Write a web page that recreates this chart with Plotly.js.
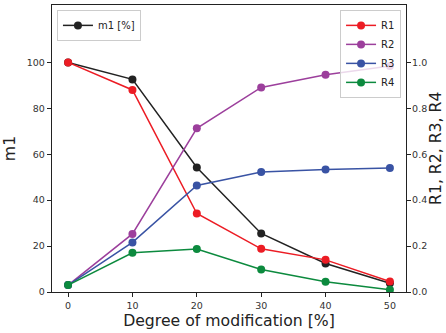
<!DOCTYPE html>
<html><head><meta charset="utf-8">
<script src="https://cdn.plot.ly/plotly-3.0.1.min.js"></script>
<style>html,body{margin:0;padding:0;background:#fff}#c{width:446px;height:333px}</style>
</head><body><div id="c"></div>
<script>
const degree = [0, 10, 20, 30, 40, 50];
const m1 = [100, 92.6, 54.2, 25.5, 12.4, 3.8];
const R1 = [1.0, 0.88, 0.342, 0.188, 0.14, 0.046];
const R2 = [0.03, 0.253, 0.713, 0.891, 0.946, 0.984];
const R3 = [0.03, 0.216, 0.464, 0.523, 0.533, 0.54];
const R4 = [0.03, 0.171, 0.187, 0.098, 0.045, 0.01];
const xTicks = [0, 10, 20, 30, 40, 50];
const yTicks = [0, 20, 40, 60, 80, 100];
const y2Ticks = [0, 0.2, 0.4, 0.6, 0.8, 1.0];
const y2Labels = ['0.0', '0.2', '0.4', '0.6', '0.8', '1.0'];
const rightTitle = 'R1, R2, R3, R4';

function tr(name, y, color, axis, legend) {
  return {x: degree, y: y, name: name, type: 'scatter', mode: 'lines+markers',
    yaxis: axis, legend: legend,
    line: {color: color, width: 1.5}, marker: {color: color, size: 8}};
}
const data = [
  tr('m1 [%]', m1, '#222222', 'y', 'legend'),
  tr('R1', R1, '#ec1c24', 'y2', 'legend2'),
  tr('R2', R2, '#9c3f9c', 'y2', 'legend2'),
  tr('R3', R3, '#3953a4', 'y2', 'legend2'),
  tr('R4', R4, '#0c8a3e', 'y2', 'legend2')
];
const tickfont = {family: 'DejaVu Sans', size: 9.5, color: '#333'};
const layout = {
  width: 446, height: 333,
  margin: {l: 52, r: 40, t: 5, b: 41},
  paper_bgcolor: '#fff', plot_bgcolor: '#fff',
  font: {family: 'DejaVu Sans', color: '#222'},
  xaxis: {range: [-2.5, 52.5], tickvals: xTicks, showgrid: false, zeroline: false,
    ticks: 'outside', ticklen: 4, tickcolor: '#222', showline: true, linecolor: '#222', linewidth: 1.2,
    mirror: true, tickfont: tickfont,
    title: {text: 'Degree of modification [%]', font: {size: 15.7, color: '#222'}, standoff: 4}},
  yaxis: {range: [0, 125], tickvals: yTicks, showgrid: false, zeroline: false,
    ticks: 'outside', ticklen: 4, tickcolor: '#222', showline: true, linecolor: '#222', linewidth: 1.2,
    tickfont: tickfont,
    title: {text: 'm1', font: {size: 15.7, color: '#222'}, standoff: 8}},
  yaxis2: {range: [0, 1.25], tickvals: y2Ticks, ticktext: y2Labels, overlaying: 'y', side: 'right',
    showgrid: false, zeroline: false, ticks: 'outside', ticklen: 4, tickcolor: '#222',
    showline: true, linecolor: '#222', linewidth: 1.2, tickfont: tickfont, ticklabelstandoff: -1},
  annotations: [{text: rightTitle, xref: 'paper', yref: 'paper', x: 1, y: 0.5, xshift: 29.5,
    xanchor: 'center', yanchor: 'middle', textangle: -90, showarrow: false,
    font: {size: 15.7, color: '#222', family: 'DejaVu Sans'}}],
  showlegend: true,
  legend: {x: 0.014, y: 0.983, xanchor: 'left', yanchor: 'top', bgcolor: 'rgba(255,255,255,0.8)',
    bordercolor: '#ccc', borderwidth: 1, font: {size: 10, color: '#222'}, tracegroupgap: 0},
  legend2: {x: 0.986, y: 0.983, xanchor: 'right', yanchor: 'top', bgcolor: 'rgba(255,255,255,0.8)',
    bordercolor: '#ccc', borderwidth: 1, font: {size: 10, color: '#222'}, tracegroupgap: 0}
};
Plotly.newPlot('c', data, layout, {displayModeBar: false, staticPlot: true});
</script></body></html>
